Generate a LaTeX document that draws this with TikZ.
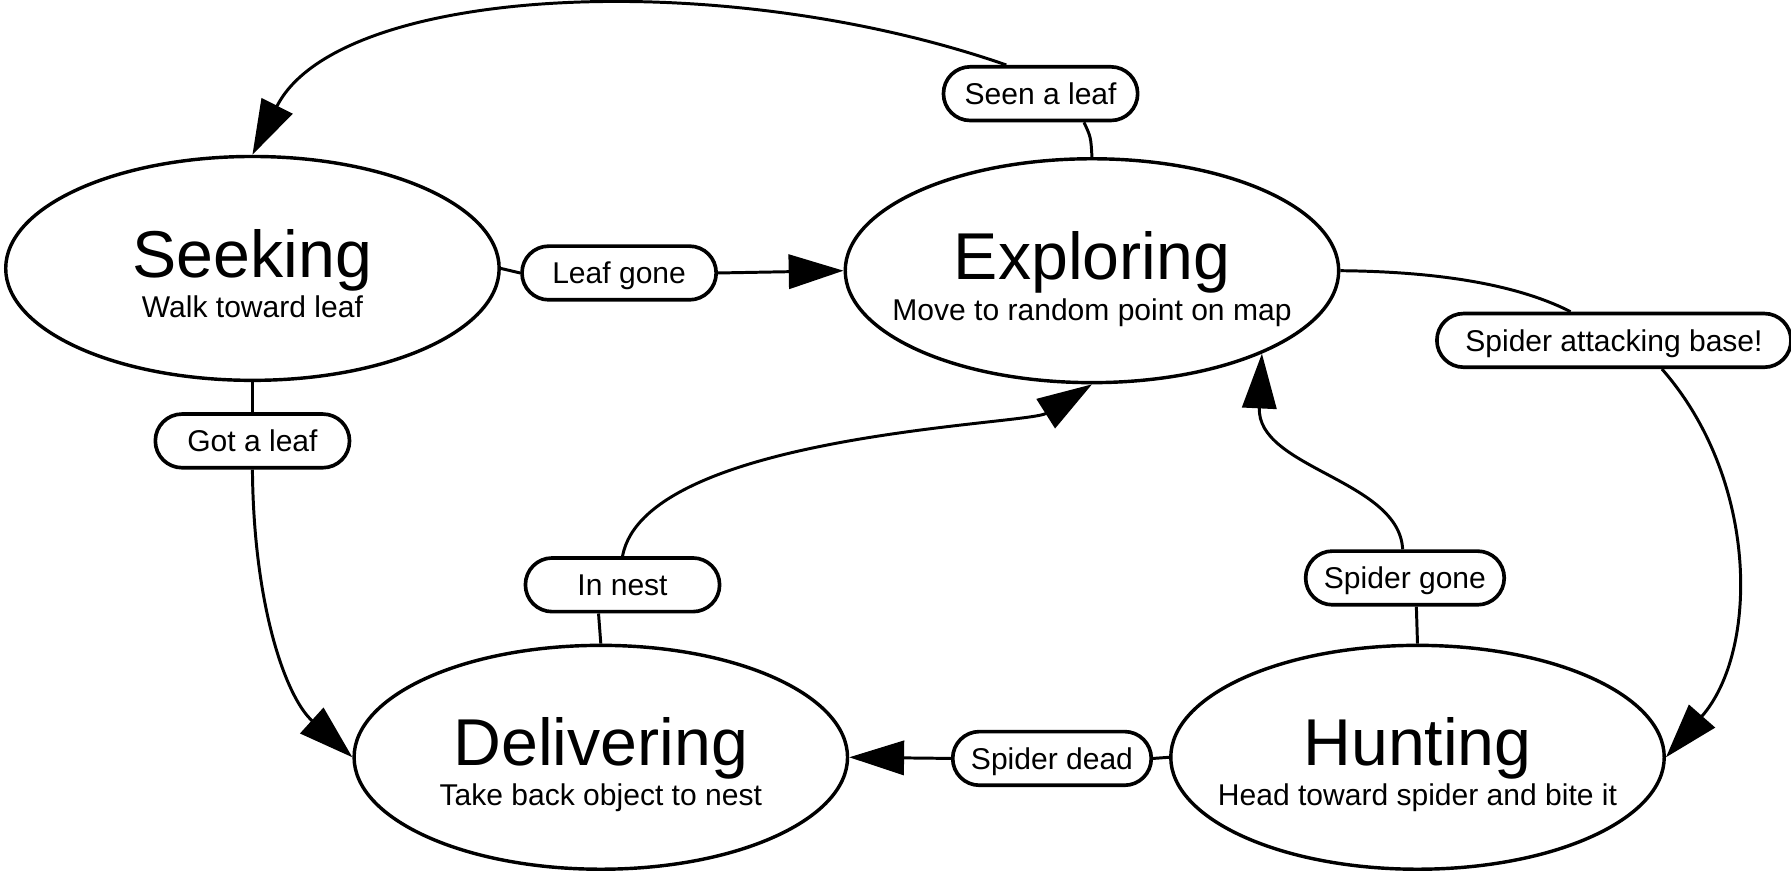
\documentclass[tikz,border=0pt]{standalone}
\usepackage{fontspec}
\setmainfont{Liberation Sans}
\usetikzlibrary{arrows.meta,shapes.geometric,calc}
\begin{document}
\begin{tikzpicture}[x=0.5pt,y=-0.5pt,
  state/.style={draw,ellipse,line width=1.5pt,minimum width=216pt,minimum height=98pt,inner sep=0pt},
  ttl/.style={anchor=base,font=\fontsize{29}{30}\selectfont,inner sep=0pt},
  sub/.style={anchor=base,font=\fontsize{13.15}{14}\selectfont,inner sep=0pt},
  lbl/.style={draw,rectangle,rounded corners=11.7pt,line width=1.6pt,minimum width=85pt,minimum height=23.5pt,inner xsep=8pt,inner ysep=0pt,text height=9.4pt,text depth=0pt,font=\fontsize{13.15}{14}\selectfont},
  conn/.style={line width=1.3pt},
  arr/.style={conn,-{Triangle[length=24pt,width=15pt]}}]
\useasboundingbox (0,0) rectangle (1568,763);
% states
\node[state] (seek) at (221,235) {};
\node[state] (expl) at (956,237) {};
\node[state] (del) at (526,663) {};
\node[state] (hunt) at (1241,663) {};
\node[ttl] (seekT) at ($(seek.center)+(0,8)$) {Seeking};
\node[sub] (seekS) at ($(seek.center)+(0,43)$) {Walk toward leaf};
\node[ttl] (explT) at ($(expl.center)+(0,8)$) {Exploring};
\node[sub] (explS) at ($(expl.center)+(0,44)$) {Move to random point on map};
\node[ttl] (delT) at ($(del.center)+(0,7)$) {Delivering};
\node[sub] (delS) at ($(del.center)+(0,42)$) {Take back object to nest};
\node[ttl] (huntT) at ($(hunt.center)+(0,7)$) {Hunting};
\node[sub] (huntS) at ($(hunt.center)+(0,42)$) {Head toward spider and bite it};
% labels
\node[lbl] (seen) at (911,82) {Seen a leaf};
\node[lbl] (lg) at (542,239) {Leaf gone};
\node[lbl] (got) at (221,386) {Got a leaf};
\node[lbl,minimum width=155pt] (sab) at (1413,298) {Spider attacking base!};
\node[lbl] (innest) at (545,512) {In nest};
\node[lbl] (sg) at (1230,506) {Spider gone};
\node[lbl] (sd) at (921,664) {Spider dead};
% connectors
\draw[conn] (expl.north) .. controls (955,120) .. ($(seen.south)+(38,0)$);
\draw[arr] ($(seen.north)+(-30,0)$) .. controls (631,-30) and (296,-13) .. (seek.north);
\draw[conn] (seek.east) -- (lg.west);
\draw[arr] (lg.east) -- (expl.west);
\draw[conn] (seek.south) -- (got.north);
\draw[arr] (got.south) .. controls (222,530) and (250,610) .. (del.west);
\draw[conn] (del.north) -- ($(innest.south)+(-21,0)$);
\draw[arr] (innest.north) .. controls (565,380) and (900,372) .. (expl.south);
\draw[conn] (hunt.north) -- ($(sg.south)+(10,0)$);
\draw[arr] ($(sg.north)+(-2,0)$) .. controls (1225,420) and (1100,410) .. (expl.-26);
\draw[conn] (expl.east) .. controls (1280,238) and (1340,255) .. ($(sab.north)+(-38,0)$);
\draw[arr] ($(sab.south)+(42,0)$) .. controls (1540,420) and (1540,570) .. (hunt.east);
\draw[conn] (hunt.west) -- (sd.east);
\draw[arr] (sd.west) -- (del.east);
\end{tikzpicture}
\end{document}
